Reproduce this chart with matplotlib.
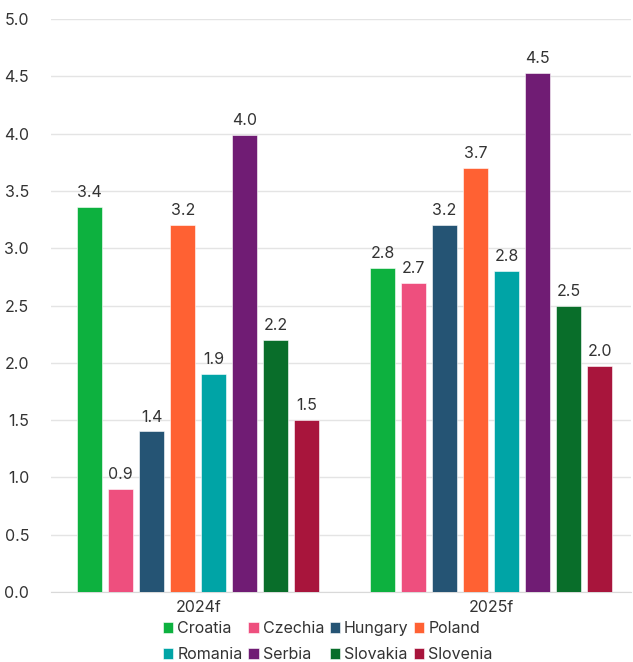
import matplotlib
matplotlib.use("Agg")
import matplotlib.pyplot as plt
import numpy as np

plt.rcParams["font.family"] = ["Inter", "DejaVu Sans"]

years = ["2024f", "2025f"]
countries = ["Croatia", "Czechia", "Hungary", "Poland", "Romania", "Serbia", "Slovakia", "Slovenia"]
colors = ["#0db13f", "#ee4f7e", "#255474", "#ff6133", "#00a4a6", "#701c74", "#096e2a", "#a8153c"]
values = {
    "Croatia": [3.36, 2.83],
    "Czechia": [0.90, 2.70],
    "Hungary": [1.40, 3.20],
    "Poland": [3.20, 3.70],
    "Romania": [1.90, 2.80],
    "Serbia": [3.99, 4.53],
    "Slovakia": [2.20, 2.50],
    "Slovenia": [1.50, 1.97],
}

text_c = "#333333"
fs = 11.5
fig = plt.figure(figsize=(6.33, 6.62), dpi=100)
ax = fig.add_axes([0.081, 0.106, 0.916, 0.865])

x = np.arange(len(years))
pitch = 0.106
width = 0.085
handles = []
for i, (name, col) in enumerate(zip(countries, colors)):
    off = (i - (len(countries) - 1) / 2) * pitch
    bars = ax.bar(x + off, values[name], width, color=col, edgecolor="white",
                  linewidth=0.4, label=name, zorder=3)
    handles.append(bars)
    for xb, v in zip(x + off, values[name]):
        ax.text(xb, v + 0.06, f"{v:.1f}", ha="center", va="bottom",
                fontsize=fs, color=text_c)

ax.set_xlim(-0.502, 1.478)
ax.set_ylim(0, 5.0)
ax.set_yticks(np.arange(0, 5.01, 0.5))
ax.set_yticklabels([f"{t:.1f}" for t in np.arange(0, 5.01, 0.5)])
ax.set_xticks(x)
ax.set_xticklabels(years)
ax.tick_params(axis="both", length=0, labelsize=fs, colors=text_c)
ax.tick_params(axis="y", pad=16)
ax.tick_params(axis="x", pad=6)
ax.grid(True, axis="y", color="#e4e4e4", linewidth=1, zorder=0)
for s in ["top", "right", "left"]:
    ax.spines[s].set_visible(False)
ax.spines["bottom"].set_color("#d9d9d9")

# column-wise fill -> reorder so rows read Croatia..Poland, Romania..Slovenia
order = [0, 4, 1, 5, 2, 6, 3, 7]
leg = fig.legend([handles[k] for k in order], [countries[k] for k in order],
                 ncol=4, loc="lower center", bbox_to_anchor=(0.518, -0.022),
                 frameon=False, fontsize=fs, handlelength=0.65, handleheight=0.65,
                 handletextpad=0.25, columnspacing=0.35, labelspacing=0.7)
for t in leg.get_texts():
    t.set_color(text_c)

fig.savefig("out.png", dpi=100)
